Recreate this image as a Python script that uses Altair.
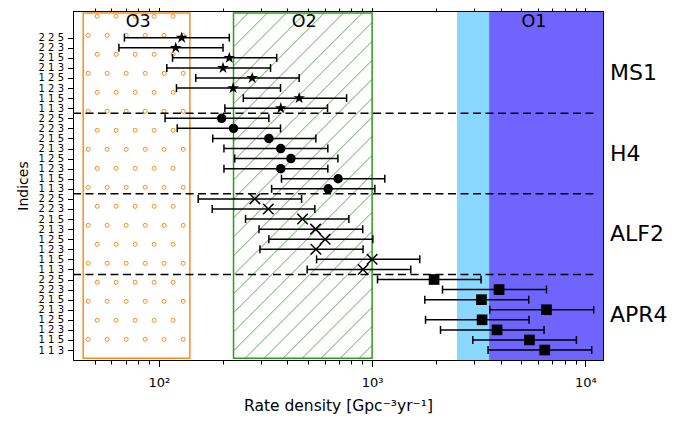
import numpy as np
import pandas as pd
import altair as alt

# ---------------- data ----------------
index_labels = ["1 1 3", "1 1 5", "1 2 3", "1 2 5", "2 1 3", "2 1 5", "2 2 3", "2 2 5"]
models = ["APR4", "ALF2", "H4", "MS1"]          # bottom -> top
model_centres = [3.5, 11.5, 19.5, 27.5]

# each list ordered bottom -> top inside its group (113,115,123,125,213,215,223,225)
apr4_c = [6448, 5465, 3853, 3278, 6568, 3256, 3937, 1952]
apr4_lo = [3496, 2965, 2092, 1780, 3560, 1766, 2138, 1060]
apr4_hi = [10702, 9074, 6398, 5441, 10937, 5424, 6568, 3242]

alf2_c = [907, 1000, 545, 602, 543, 472, 326, 282]
alf2_lo = [496, 549, 298, 328, 295, 255, 178, 153]
alf2_hi = [1518, 1673, 907, 1008, 904, 778, 539, 467]

h4_c = [622, 693, 373, 416, 373, 328, 224, 197]
h4_lo = [338, 376, 202, 227, 202, 179, 122, 107]
h4_hi = [1030, 1147, 620, 691, 620, 545, 372, 328]

ms1_c = [373, 455, 223, 274, 200, 214, 120, 128]
ms1_lo = [204, 249, 121, 149, 109, 116, 65, 69]
ms1_hi = [618, 759, 372, 455, 334, 357, 200, 214]

run_labels = ["O3", "O2", "O1"]
run_label_x = [80, 480, 5740]
run_label_y = 32.59
o3_range = [44.2, 139.8]
o2_range = [224, 1000]
o1_light_range = [2500, 3535]
o1_dark_range = [3535, 12090]
box_y = [-0.82, 33.45]
separator_y = [7.5, 15.5, 23.5]
separator_x = [39.6, 11000]

major_ticks = [100, 1000, 10000]
major_tick_labels = ["10²", "10³", "10⁴"]
minor_ticks = [50, 60, 70, 80, 90,
               200, 300, 400, 500, 600, 700, 800, 900,
               2000, 3000, 4000, 5000, 6000, 7000, 8000, 9000]

X_DOMAIN = [39.6, 12090]
Y_DOMAIN = [-0.99, 33.65]

# ---------------- styling ----------------
W, H = 530, 349
ORANGE = "#FB8C1C"
GREEN = "#2F9A1E"
LIGHTBLUE = "#8AD7FF"
PURPLE = "#7064FF"
FONT = "DejaVu Sans"

STAR = ("M0,-1L0.2245,-0.309L0.9511,-0.309L0.3633,0.118L0.5878,0.809L0,0.382"
        "L-0.5878,0.809L-0.3633,0.118L-0.9511,-0.309L-0.2245,-0.309Z")
XMARK = "M-1,-1L1,1M-1,1L1,-1"

# ---------------- tables ----------------
series = {"APR4": (apr4_lo, apr4_c, apr4_hi), "ALF2": (alf2_lo, alf2_c, alf2_hi),
          "H4": (h4_lo, h4_c, h4_hi), "MS1": (ms1_lo, ms1_c, ms1_hi)}
rows = []
for g, m in enumerate(models):
    lo, c, hi = series[m]
    for k in range(8):
        rows.append(dict(model=m, idx=8 * g + k, lo=lo[k], c=c[k], hi=hi[k]))
pts = pd.DataFrame(rows)

bands = pd.DataFrame({
    "x1": [o1_light_range[0], o1_dark_range[0]],
    "x2": [o1_light_range[1], o1_dark_range[1]],
    "y1": [Y_DOMAIN[0]] * 2, "y2": [Y_DOMAIN[1]] * 2,
    "kind": ["light", "dark"]})
boxes = pd.DataFrame({"x1": [o3_range[0], o2_range[0]], "x2": [o3_range[1], o2_range[1]],
                      "y1": [box_y[0]] * 2, "y2": [box_y[1]] * 2, "run": ["O3", "O2"]})
seps = pd.DataFrame({"y": separator_y, "x1": separator_x[0], "x2": separator_x[1]})
runtxt = pd.DataFrame({"x": run_label_x, "y": run_label_y, "t": run_labels})
modtxt = pd.DataFrame({"y": model_centres, "t": models})

# hatch decoration (pattern spacing in pixels, converted to data units)
LX0, LX1 = np.log10(X_DOMAIN)
PXD = W / (LX1 - LX0)
PYU = H / (Y_DOMAIN[1] - Y_DOMAIN[0])


def to_px(v, i):
    return (np.log10(v) - LX0) * PXD, (Y_DOMAIN[1] - i) * PYU


def from_px(px, py):
    return 10 ** (px / PXD + LX0), Y_DOMAIN[1] - py / PYU


HATCH = 19.0
bx0, by0 = to_px(o3_range[0], box_y[1])
bx1, by1 = to_px(o3_range[1], box_y[0])
dots = []
py, r = by0 + 3.3, 0
while py < by1 - 2.5:
    px = bx0 + (14.0 if r % 2 == 0 else 5.0)
    while px < bx1 - 2.5:
        v, i = from_px(px, py)
        dots.append(dict(x=v, y=i))
        px += HATCH
    py += HATCH
    r += 1
dots = pd.DataFrame(dots)

gx0, gy0 = to_px(o2_range[0], box_y[1])
gx1, gy1 = to_px(o2_range[1], box_y[0])
phase = 6.4
c = phase + HATCH * np.ceil((gx0 + gy0 - phase) / HATCH)
segs = []
while c < gx1 + gy1:
    a = max(gx0, c - gy1)
    b = min(gx1, c - gy0)
    if b - a > 0.5:
        xa, ya = from_px(a, c - a)
        xb, yb = from_px(b, c - b)
        segs.append(dict(x1=xa, y1=ya, x2=xb, y2=yb))
    c += HATCH
segs = pd.DataFrame(segs)

# ---------------- scales / axes ----------------
xscale = alt.Scale(type="log", domain=X_DOMAIN, nice=False)
yscale = alt.Scale(domain=Y_DOMAIN, nice=False, zero=False)

label_expr_x = " : ".join(
    f"datum.value == {v} ? '{t}'" for v, t in zip(major_ticks[:-1], major_tick_labels[:-1])
) + f" : '{major_tick_labels[-1]}'"
label_expr_y = "[" + ",".join(f"'{s}'" for s in index_labels) + "][datum.value % 8]"

ax_bot_major = alt.Axis(orient="bottom", values=major_ticks, labelExpr=label_expr_x,
                        tickSize=6.5, labelFontSize=13, labelPadding=10, labelFlush=False,
                        labelOverlap=False, title="Rate density [Gpc⁻³yr⁻¹]",
                        titleFontSize=15.5, titlePadding=9, zindex=1)
ax_bot_minor = alt.Axis(orient="bottom", values=minor_ticks, labels=False, tickSize=4,
                        title=None, zindex=1)
ax_top_major = alt.Axis(orient="top", values=major_ticks, labels=False, tickSize=5,
                        title=None, zindex=1)
ax_top_minor = alt.Axis(orient="top", values=minor_ticks, labels=False, tickSize=3,
                        title=None, zindex=1)
ax_left = alt.Axis(orient="left", values=list(range(32)), labelExpr=label_expr_y,
                   tickSize=5.5, labelFontSize=10, labelPadding=4, labelOverlap=False,
                   title="Indices", titleFontSize=14, titlePadding=8, zindex=1)


def X(f, axis=None):
    return alt.X(f, type="quantitative", scale=xscale, axis=axis)


def Y(f):
    return alt.Y(f, type="quantitative", scale=yscale, axis=ax_left)


light = alt.Chart(bands).transform_filter("datum.kind == 'light'").mark_rect(
    color=LIGHTBLUE, opacity=1).encode(x=X("x1", ax_top_major), x2="x2", y=Y("y1"), y2="y2")
dark = alt.Chart(bands).transform_filter("datum.kind == 'dark'").mark_rect(
    color=PURPLE, opacity=1).encode(x=X("x1", ax_top_minor), x2="x2", y=Y("y1"), y2="y2")

o3dots = alt.Chart(dots).mark_point(shape="circle", filled=False, size=16, color=ORANGE,
                                    strokeWidth=1, opacity=1).encode(x=X("x"), y=Y("y"))
o2hatch = alt.Chart(segs).mark_rule(color=GREEN, strokeWidth=0.8, opacity=1).encode(
    x=X("x1"), x2="x2", y=Y("y1"), y2="y2")
o3box = alt.Chart(boxes).transform_filter("datum.run == 'O3'").mark_rect(
    fillOpacity=0, stroke=ORANGE, strokeWidth=1.5).encode(
    x=X("x1", ax_bot_minor), x2="x2", y=Y("y1"), y2="y2")
o2box = alt.Chart(boxes).transform_filter("datum.run == 'O2'").mark_rect(
    fillOpacity=0, stroke=GREEN, strokeWidth=1.5).encode(
    x=X("x1"), x2="x2", y=Y("y1"), y2="y2")

dashed = alt.Chart(seps).mark_rule(color="black", strokeWidth=1.5, strokeDash=[8, 4.5],
                                   opacity=1).encode(x=X("x1", ax_bot_major), x2="x2",
                                                     y=Y("y"))

bars = alt.Chart(pts).mark_rule(color="black", strokeWidth=1.5, opacity=1).encode(
    x=X("lo"), x2="hi", y=Y("idx"))
caps = alt.Chart(pts).transform_fold(["lo", "hi"], as_=["end", "v"]).mark_tick(
    orient="vertical", color="black", size=8, thickness=1.5, opacity=1).encode(
    x=X("v"), y=Y("idx"))


def marker(model, **kw):
    return alt.Chart(pts).transform_filter(f"datum.model == '{model}'").mark_point(
        opacity=1, **kw).encode(x=X("c"), y=Y("idx"))


m_ms1 = marker("MS1", shape=STAR, filled=True, color="black", size=150)
m_h4 = marker("H4", shape="circle", filled=True, color="black", size=90)
m_alf2 = marker("ALF2", shape=XMARK, filled=False, color="black", size=110, strokeWidth=1.5)
m_apr4 = marker("APR4", shape="square", filled=True, color="black", size=114)

runtext = alt.Chart(runtxt).mark_text(fontSize=17.5, font=FONT, color="black",
                                      align="center", baseline="middle").encode(
    x=X("x"), y=Y("y"), text="t:N")
modtext = alt.Chart(modtxt).mark_text(fontSize=22, font=FONT, color="black",
                                      align="left", baseline="middle").encode(
    x=alt.value(W + 7), y=Y("y"), text="t:N")

chart = alt.layer(
    light, dark, o3dots, o3box, o2hatch, o2box, dashed, bars, caps,
    m_ms1, m_h4, m_alf2, m_apr4, runtext, modtext
).resolve_axis(x="independent", y="shared").properties(
    width=W, height=H,
    autosize=alt.AutoSizeParams(type="none"),
    padding={"left": 65, "top": 3, "right": 75, "bottom": 58},
).configure(font=FONT).configure_view(stroke="black", strokeWidth=1).configure_axis(
    grid=False, domainColor="black", tickColor="black", labelColor="black",
    titleColor="black", titleFontWeight="normal", domainWidth=1, tickWidth=1,
    labelFont=FONT, titleFont=FONT)

chart.save("out.html", embed_options={"renderer": "svg", "actions": False})
